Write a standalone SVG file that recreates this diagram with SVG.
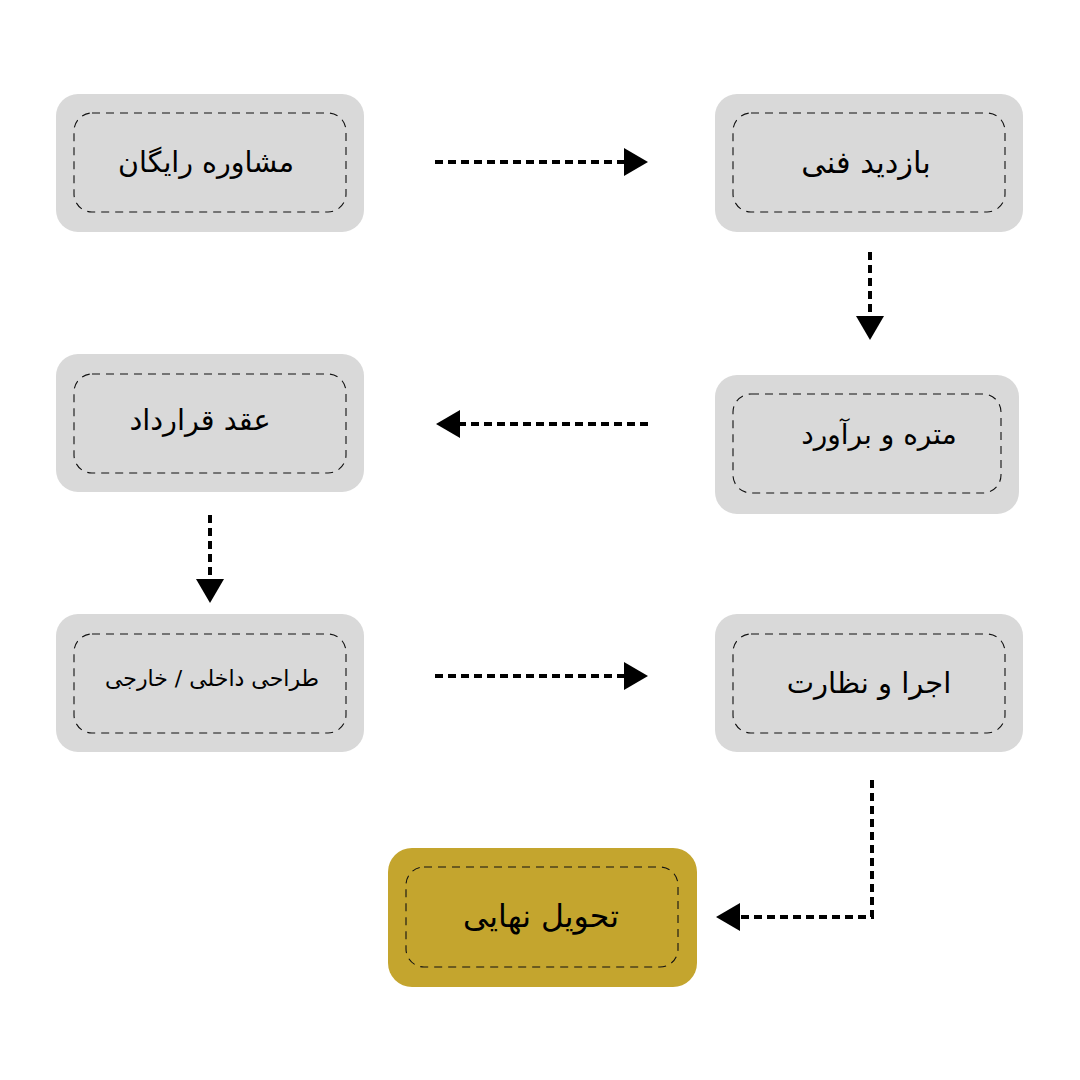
<svg xmlns="http://www.w3.org/2000/svg" width="1080" height="1080" viewBox="0 0 1080 1080">
<defs>
<style>
.box{fill:#d9d9d9;}
.gold{fill:#c4a52e;}
.inner{fill:none;stroke:#111;stroke-width:1.1;stroke-dasharray:8 6;}
.lbl{font-family:"DejaVu Sans","Noto Sans",sans-serif;font-size:28px;fill:#000;text-anchor:middle;direction:rtl;}
.sm{font-size:22px;}
.conn{fill:none;stroke:#000;stroke-width:4;stroke-dasharray:8 5;}
</style>
<marker id="ah" markerWidth="24" markerHeight="28" refX="0" refY="14" orient="auto" markerUnits="userSpaceOnUse">
<path d="M0,0 L24,14 L0,28 Z" fill="#000"/>
</marker>
</defs>
<rect width="1080" height="1080" fill="#fff"/>
<g id="connectors">
<path class="conn" d="M435,162 H624" marker-end="url(#ah)"/>
<path class="conn" d="M870,252 V316" marker-end="url(#ah)"/>
<path class="conn" d="M648,424 H460" marker-end="url(#ah)"/>
<path class="conn" d="M210,515 V579" marker-end="url(#ah)"/>
<path class="conn" d="M435,676 H624" marker-end="url(#ah)"/>
<path class="conn" d="M872,780 V917 H740" marker-end="url(#ah)"/>
</g>
<g id="node-moshavere">
<rect class="box" x="56" y="94" width="308" height="138" rx="22"/>
<rect class="inner" x="74" y="113" width="272" height="99" rx="18"/>
<text class="lbl" x="206" y="172" style="font-size:28.5px">مشاوره رایگان</text>
</g>
<g id="node-bazdid">
<rect class="box" x="715" y="94" width="308" height="138" rx="22"/>
<rect class="inner" x="733" y="113" width="272" height="99" rx="18"/>
<text class="lbl" x="866" y="173" style="font-size:30.5px">بازدید فنی</text>
</g>
<g id="node-metre">
<rect class="box" x="715" y="375" width="304" height="139" rx="22"/>
<rect class="inner" x="733" y="394" width="268" height="99" rx="18"/>
<text class="lbl" x="879" y="444">متره و برآورد</text>
</g>
<g id="node-aghd">
<rect class="box" x="56" y="354" width="308" height="138" rx="22"/>
<rect class="inner" x="74" y="374" width="272" height="99" rx="18"/>
<text class="lbl" x="200" y="430" style="font-size:28.8px">عقد قرارداد</text>
</g>
<g id="node-tarahi">
<rect class="box" x="56" y="614" width="308" height="138" rx="22"/>
<rect class="inner" x="74" y="634" width="272" height="99" rx="18"/>
<text class="lbl sm" x="212" y="686">طراحی داخلی / خارجی</text>
</g>
<g id="node-ejra">
<rect class="box" x="715" y="614" width="308" height="138" rx="22"/>
<rect class="inner" x="733" y="634" width="272" height="99" rx="18"/>
<text class="lbl" x="869" y="693" style="font-size:29px">اجرا و نظارت</text>
</g>
<g id="node-tahvil">
<rect class="gold" x="388" y="848" width="309" height="139" rx="24"/>
<rect class="inner" x="406" y="867" width="272" height="100" rx="18"/>
<text class="lbl" x="541" y="927" style="font-size:31.5px">تحویل نهایی</text>
</g>
</svg>
